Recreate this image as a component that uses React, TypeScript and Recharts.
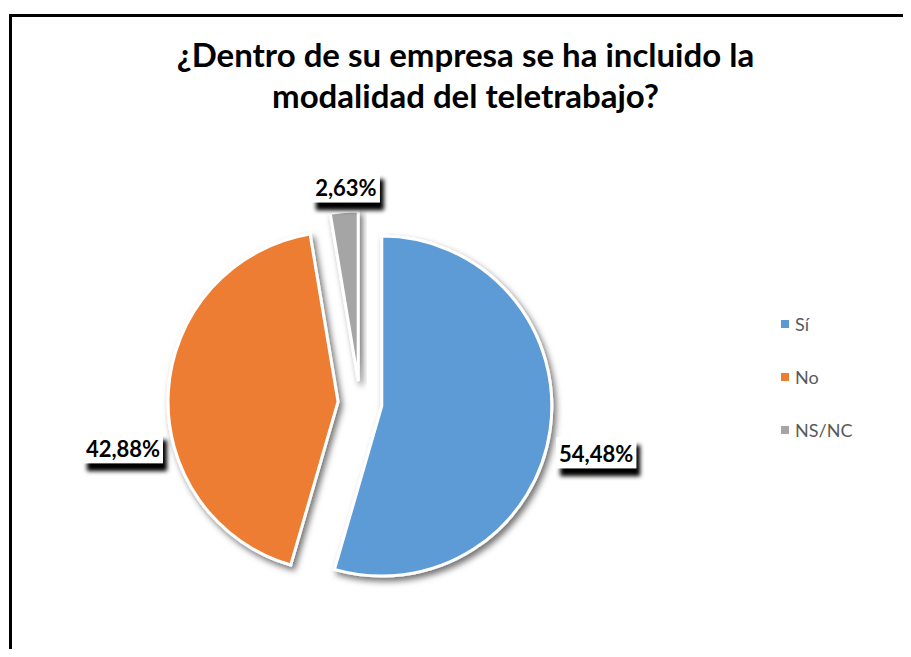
import React from 'react';
import { PieChart, Pie, Cell, Legend, Sector } from 'recharts';

const categories = ['Sí', 'No', 'NS/NC'];
const percentages = [54.48, 42.88, 2.63];
const colors = ['#5B9BD5', '#ED7D31', '#A5A5A5'];

const data = categories.map((name, i) => ({ name, value: percentages[i] }));

const RAD = Math.PI / 180;
const EXPLODE = 22;
// small angle nudges so labels sit where Excel put them
const LABEL_SHIFT: Record<string, number> = { 'Sí': -3.8, 'No': 14, 'NS/NC': -1 };

const ExplodedSlice = (props: any) => {
    const { cx, cy, midAngle, innerRadius, outerRadius, startAngle, endAngle, fill } = props;
    const dx = EXPLODE * Math.cos(-midAngle * RAD);
    const dy = EXPLODE * Math.sin(-midAngle * RAD);
    return (
        <Sector
            cx={cx + dx}
            cy={cy + dy}
            innerRadius={innerRadius}
            outerRadius={outerRadius}
            startAngle={startAngle}
            endAngle={endAngle}
            fill={fill}
            stroke="#ffffff"
            strokeWidth={3}
            filter="url(#sliceShadow)"
        />
    );
};

const renderLabel = (props: any) => {
    const { cx, cy, midAngle, outerRadius, value } = props;
    const name = props.payload?.name ?? props.name;
    const text = Number(value).toFixed(2).replace('.', ',') + '%';
    const w = text.length * 12 + 8;
    const h = 31;
    const a = (midAngle + (LABEL_SHIFT[name] ?? 0)) * RAD;
    const ux = Math.cos(-a);
    const uy = Math.sin(-a);
    const r = outerRadius + EXPLODE + 7 + Math.abs(ux) * w / 2 + Math.abs(uy) * h / 2;
    const x = cx + r * ux;
    const y = cy + r * uy;
    return (
        <g>
            <rect x={x - w / 2} y={y - h / 2} width={w} height={h} fill="#ffffff" filter="url(#labelShadow)" />
            <text
                x={x}
                y={y + 1}
                textAnchor="middle"
                dominantBaseline="central"
                fontFamily="Lato, sans-serif"
                fontWeight={700}
                fontSize={22}
                fill="#000000"
            >
                {text}
            </text>
        </g>
    );
};

const renderLegend = () => (
    <div style={{ fontFamily: 'Lato, sans-serif', fontSize: 18, color: '#595959' }}>
        {categories.map((name, i) => (
            <div key={name} style={{ display: 'flex', alignItems: 'center', height: 53 }}>
                <span style={{ display: 'inline-block', width: 8, height: 8, background: colors[i], marginRight: 6 }} />
                <span>{name}</span>
            </div>
        ))}
    </div>
);

const App: React.FC = () => {
    return (
        <div style={{ position: 'relative', width: 911, height: 657, margin: -8, overflow: 'hidden', background: '#fff' }}>
            <svg width={0} height={0} style={{ position: 'absolute' }}>
                <defs>
                    <filter id="sliceShadow" x="-20%" y="-20%" width="150%" height="150%">
                        <feDropShadow dx={3} dy={4} stdDeviation={3} floodColor="#000" floodOpacity={0.55} />
                    </filter>
                    <filter id="labelShadow" x="-30%" y="-40%" width="170%" height="220%">
                        <feDropShadow dx={4} dy={8} stdDeviation={2} floodColor="#000" floodOpacity={1} />
                    </filter>
                </defs>
            </svg>
            <div
                style={{
                    position: 'absolute',
                    left: 9,
                    top: 14,
                    width: 960,
                    height: 700,
                    borderLeft: '3px solid #000',
                    borderTop: '3px solid #000',
                }}
            />
            <div
                style={{
                    position: 'absolute',
                    left: 0,
                    top: 34,
                    width: 931,
                    textAlign: 'center',
                    fontFamily: 'Lato, sans-serif',
                    fontWeight: 700,
                    fontSize: 33,
                    lineHeight: '41px',
                    color: '#000',
                }}
            >
                ¿Dentro de su empresa se ha incluido la
                <br />
                modalidad del teletrabajo?
            </div>
            <div style={{ position: 'absolute', left: 0, top: 0 }}>
                <PieChart width={911} height={657} margin={{ top: 0, right: 0, bottom: 0, left: 0 }}>
                    <Pie
                        data={data}
                        dataKey="value"
                        nameKey="name"
                        cx={360}
                        cy={403}
                        outerRadius={170}
                        startAngle={90}
                        endAngle={-270}
                        shape={ExplodedSlice}
                        label={renderLabel}
                        labelLine={false}
                        isAnimationActive={false}
                    >
                        {data.map((d, i) => (
                            <Cell key={d.name} fill={colors[i]} />
                        ))}
                    </Pie>
                    <Legend
                        layout="vertical"
                        align="right"
                        verticalAlign="top"
                        content={renderLegend}
                        wrapperStyle={{ left: 781, top: 297, width: 120 }}
                    />
                </PieChart>
            </div>
        </div>
    );
};

export default App;
